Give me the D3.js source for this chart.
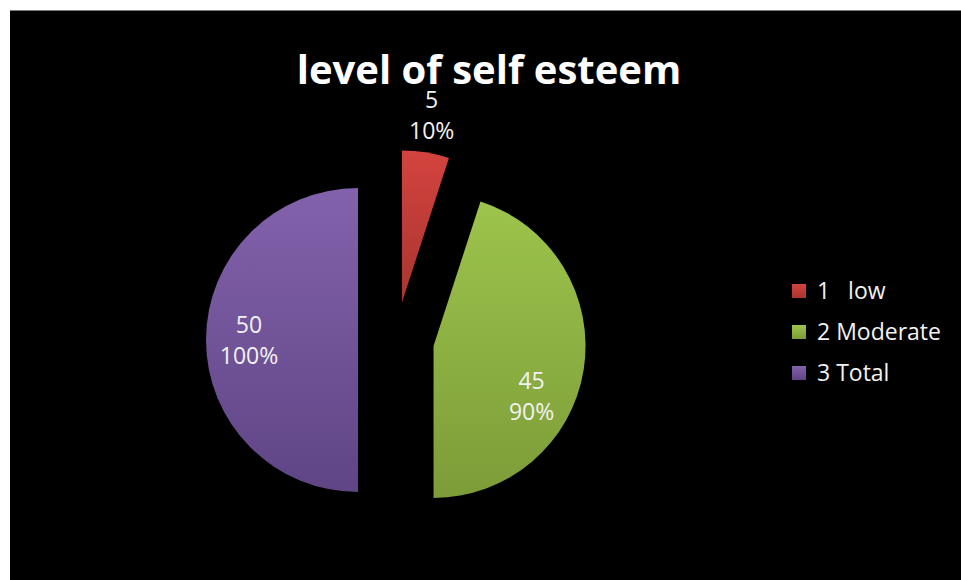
<!DOCTYPE html>
<html>
<head>
<meta charset="utf-8">
<script src="https://cdn.jsdelivr.net/npm/d3@7"></script>
<style>
  html, body { margin: 0; padding: 0; background: #fff; }
  svg { display: block; }
</style>
</head>
<body>
<div id="chart"></div>
<script>
// Chart data
const categories = ["1   low", "2 Moderate", "3 Total"];
const values = [5, 45, 50];
const percentLabels = ["10%", "90%", "100%"];

// Slice colours (top, bottom of the gradient)
const colorsTop = ["#d4433e", "#9dc44c", "#8362ac"];
const colorsBottom = ["#a8352f", "#7c9c38", "#5f4585"];

const width = 961;
const height = 580;
const font = "'Open Sans', 'DejaVu Sans', sans-serif";

const svg = d3.select("#chart")
  .append("svg")
  .attr("width", width)
  .attr("height", height);

// Black chart area with a thin grey top edge
svg.append("rect")
  .attr("x", 10).attr("y", 10)
  .attr("width", width - 10).attr("height", height - 10)
  .attr("fill", "#000");
svg.append("line")
  .attr("x1", 10).attr("x2", width)
  .attr("y1", 10.5).attr("y2", 10.5)
  .attr("stroke", "#7a7a7a");

// Gradients, one per slice
const defs = svg.append("defs");
categories.forEach((c, i) => {
  const g = defs.append("linearGradient")
    .attr("id", "grad" + i)
    .attr("x1", 0).attr("y1", 0).attr("x2", 0).attr("y2", 1);
  g.append("stop").attr("offset", "0%").attr("stop-color", colorsTop[i]);
  g.append("stop").attr("offset", "100%").attr("stop-color", colorsBottom[i]);
});

// Title
svg.append("text")
  .attr("x", 489)
  .attr("y", 84)
  .attr("text-anchor", "middle")
  .style("font", `bold 40px ${font}`)
  .attr("fill", "#fff")
  .text("level of self esteem");

// Pie layout
const cx = 396, cy = 340;
const radius = 152;
const explode = 38;

const pie = d3.pie().sort(null).value(d => d);
const arcs = pie(values);
const arc = d3.arc().innerRadius(0).outerRadius(radius);

// label placement: radius and angle shift (degrees) for each slice
const labelRadius = [190, 110, 109];
const labelShift = [0, 18, 0];

const slices = svg.append("g")
  .attr("transform", `translate(${cx},${cy})`)
  .selectAll("g")
  .data(arcs)
  .join("g")
  .attr("transform", d => {
    const a = (d.startAngle + d.endAngle) / 2;
    return `translate(${explode * Math.sin(a)},${-explode * Math.cos(a)})`;
  });

slices.append("path")
  .attr("d", arc)
  .attr("fill", (d, i) => `url(#grad${i})`);

slices.each(function(d, i) {
  const a = (d.startAngle + d.endAngle) / 2 + labelShift[i] * Math.PI / 180;
  const lx = labelRadius[i] * Math.sin(a);
  const ly = -labelRadius[i] * Math.cos(a);
  const t = d3.select(this).append("text")
    .attr("text-anchor", "middle")
    .style("font", `23px ${font}`)
    .attr("fill", "#f2f2f2");
  t.append("tspan").attr("x", lx).attr("y", ly - 7).text(values[i]);
  t.append("tspan").attr("x", lx).attr("y", ly + 24).text(percentLabels[i]);
});

// Legend
const legend = svg.append("g")
  .attr("transform", "translate(792,284)")
  .selectAll("g")
  .data(categories)
  .join("g")
  .attr("transform", (d, i) => `translate(0,${i * 41})`);

legend.append("rect")
  .attr("width", 14).attr("height", 14)
  .attr("fill", (d, i) => `url(#grad${i})`);

legend.append("text")
  .attr("x", 25)
  .attr("y", 15)
  .style("font", `23px ${font}`)
  .style("white-space", "pre")
  .attr("fill", "#f2f2f2")
  .text(d => d);
</script>
</body>
</html>
